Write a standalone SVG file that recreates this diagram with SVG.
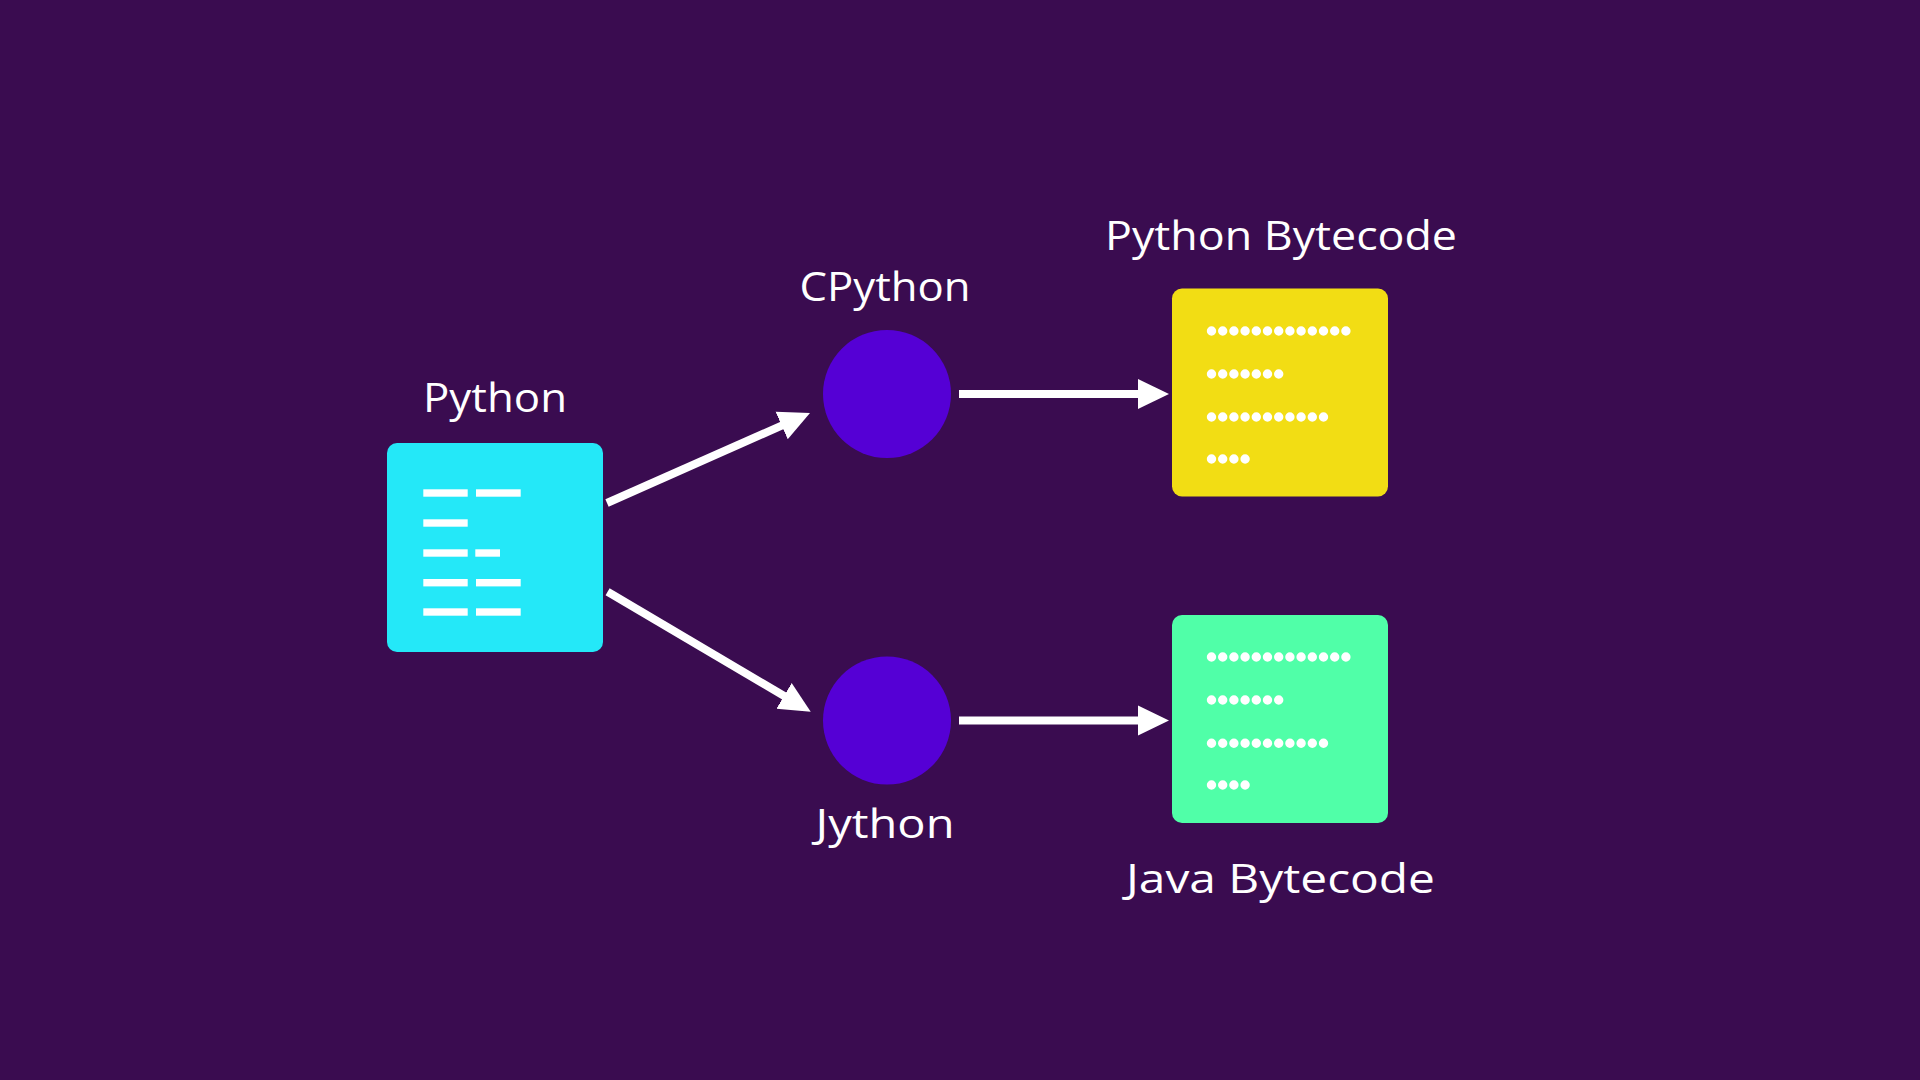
<svg xmlns="http://www.w3.org/2000/svg" width="1920" height="1080" viewBox="0 0 1920 1080">
<defs>
<style>
.lbl{font-family:"Open Sans","Liberation Sans",sans-serif;font-size:40px;font-weight:500;fill:#ffffff;text-anchor:middle}
.conn{stroke:#ffffff;stroke-width:8;fill:none;marker-end:url(#ah)}
.bar{fill:#ffffff}
.dots{stroke:#ffffff;stroke-width:9.4;stroke-linecap:round;stroke-dasharray:0 11.2;fill:none}
.interp{fill:#5500d5}
</style>
<marker id="ah" markerUnits="userSpaceOnUse" markerWidth="32" markerHeight="32" viewBox="0 0 32 32" refX="11" refY="16" orient="auto">
<path d="M0,1 L31,16 L0,31 z" fill="#ffffff"/>
</marker>
</defs>
<rect x="0" y="0" width="1920" height="1080" fill="#3a0c50"/>

<g id="python">
<text class="lbl" x="495" y="412" textLength="144" lengthAdjust="spacingAndGlyphs">Python</text>
<rect x="387" y="443" width="216" height="209" rx="10" fill="#24e8f8"/>
<rect class="bar" x="423.3" y="489.3" width="44.4" height="7.4"/>
<rect class="bar" x="476" y="489.3" width="44.7" height="7.4"/>
<rect class="bar" x="423.3" y="519.3" width="44.4" height="7.4"/>
<rect class="bar" x="423.3" y="549.3" width="44.4" height="7.4"/>
<rect class="bar" x="475.3" y="549.3" width="24.7" height="7.4"/>
<rect class="bar" x="423.3" y="579" width="44.4" height="7.4"/>
<rect class="bar" x="476" y="579" width="44.7" height="7.4"/>
<rect class="bar" x="423.3" y="608.3" width="44.4" height="7.4"/>
<rect class="bar" x="476" y="608.3" width="44.7" height="7.4"/>
</g>

<g id="cpython">
<text class="lbl" x="885" y="301" textLength="171" lengthAdjust="spacingAndGlyphs">CPython</text>
<circle class="interp" cx="887" cy="394" r="64"/>
</g>

<g id="jython">
<circle class="interp" cx="887" cy="720.5" r="64"/>
<text class="lbl" x="885" y="838" textLength="139" lengthAdjust="spacingAndGlyphs">Jython</text>
</g>

<g id="python-bytecode">
<text class="lbl" x="1281" y="250" textLength="352" lengthAdjust="spacingAndGlyphs">Python Bytecode</text>
<rect x="1172" y="288.5" width="216" height="208" rx="10" fill="#f2dd14"/>
<line class="dots" x1="1211.5" y1="331" x2="1346" y2="331"/>
<line class="dots" x1="1211.5" y1="374" x2="1278.8" y2="374"/>
<line class="dots" x1="1211.5" y1="417" x2="1323.6" y2="417"/>
<line class="dots" x1="1211.5" y1="459" x2="1245.2" y2="459"/>
</g>

<g id="java-bytecode">
<rect x="1172" y="615" width="216" height="208" rx="10" fill="#50ffa8"/>
<line class="dots" x1="1211.5" y1="657" x2="1346" y2="657"/>
<line class="dots" x1="1211.5" y1="700" x2="1278.8" y2="700"/>
<line class="dots" x1="1211.5" y1="743.3" x2="1323.6" y2="743.3"/>
<line class="dots" x1="1211.5" y1="785" x2="1245.2" y2="785"/>
<text class="lbl" x="1280.5" y="893" textLength="309" lengthAdjust="spacingAndGlyphs">Java Bytecode</text>
</g>

<g id="connectors">
<line class="conn" x1="607" y1="503" x2="791.7" y2="421.1"/>
<line class="conn" x1="607.6" y1="591.7" x2="793.5" y2="701.5"/>
<line class="conn" x1="959" y1="394" x2="1149" y2="394"/>
<line class="conn" x1="959" y1="720.5" x2="1149" y2="720.5"/>
</g>
</svg>
